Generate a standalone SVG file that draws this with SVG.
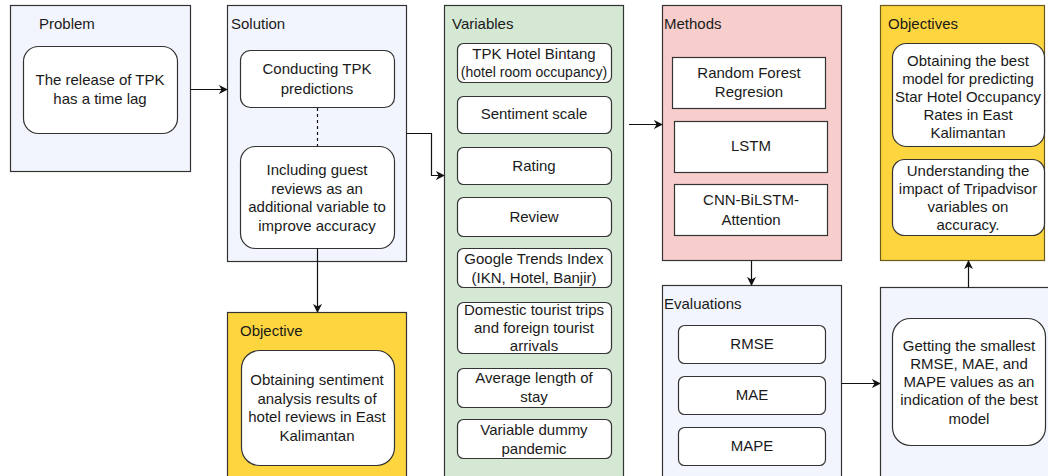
<svg xmlns="http://www.w3.org/2000/svg" width="1048" height="476" viewBox="0 0 1048 476">
<style>
.t{font-family:"Liberation Sans",Arial,sans-serif;font-size:15px;fill:#1a1a1a;text-anchor:middle}
.lbl{font-family:"Liberation Sans",Arial,sans-serif;font-size:15px;fill:#1a1a1a}
.blue{fill:#f2f5fd;stroke:#333;stroke-width:1.2}
.green{fill:#d5e8d4;stroke:#333;stroke-width:1.2}
.red{fill:#f8cecc;stroke:#333;stroke-width:1.2}
.yellow{fill:#fdd53f;stroke:#333;stroke-width:1.2}
.yellowb{fill:#fdd53f;stroke:#6b5a1a;stroke-width:1.2}
.rb{fill:#fff;stroke:#333;stroke-width:1.2}
.ln{fill:none;stroke:#111;stroke-width:1.2}
</style>
<defs>
<marker id="ah" viewBox="0 0 10 10" refX="9" refY="5" markerWidth="9" markerHeight="9" markerUnits="userSpaceOnUse" orient="auto">
<path d="M0,0 L10,5 L0,10 L3,5 Z" fill="#111"/>
</marker>
</defs>
<rect width="1048" height="476" fill="#fff"/>

<g id="problem">
<rect class="blue" x="10.5" y="5.5" width="180" height="166"/>
<text class="lbl" x="39" y="29">Problem</text>
<rect class="rb" x="23.5" y="46.5" width="154" height="87" rx="15"/>
<text class="t" x="100" y="85">The release of TPK</text>
<text class="t" x="100" y="104">has a time lag</text>
</g>

<g id="solution">
<rect class="blue" x="227.5" y="5.5" width="179" height="256"/>
<text class="lbl" x="231" y="29">Solution</text>
<rect class="rb" x="240.5" y="50.5" width="154" height="57" rx="10"/>
<text class="t" x="317" y="74">Conducting TPK</text>
<text class="t" x="317" y="94">predictions</text>
<rect class="rb" x="240.5" y="146.5" width="154" height="102" rx="15"/>
<text class="t" x="317" y="175">Including guest</text>
<text class="t" x="317" y="194">reviews as an</text>
<text class="t" x="317" y="212">additional variable to</text>
<text class="t" x="317" y="231">improve accuracy</text>
</g>

<g id="objective">
<rect class="yellow" x="227.5" y="312.5" width="179" height="170"/>
<text class="lbl" x="240" y="336">Objective</text>
<rect class="rb" x="241.5" y="350.5" width="153" height="115" rx="18"/>
<text class="t" x="317" y="385">Obtaining sentiment</text>
<text class="t" x="317" y="404">analysis results of</text>
<text class="t" x="317" y="422">hotel reviews in East</text>
<text class="t" x="317" y="441">Kalimantan</text>
</g>

<g id="variables">
<rect class="green" x="444.5" y="5.5" width="179" height="480"/>
<text class="lbl" x="452" y="29">Variables</text>
<rect class="rb" x="457.5" y="43.5" width="154" height="39" rx="6"/>
<text class="t" x="534" y="59">TPK Hotel Bintang</text>
<text class="t" x="534" y="77" style="font-size:14px">(hotel room occupancy)</text>
<rect class="rb" x="457.5" y="96.5" width="154" height="37" rx="6"/>
<text class="t" x="534" y="119">Sentiment scale</text>
<rect class="rb" x="457.5" y="147.5" width="154" height="37" rx="6"/>
<text class="t" x="534" y="171">Rating</text>
<rect class="rb" x="457.5" y="197.5" width="154" height="39" rx="6"/>
<text class="t" x="534" y="222">Review</text>
<rect class="rb" x="457.5" y="248.5" width="154" height="39" rx="6"/>
<text class="t" x="534" y="264">Google Trends Index</text>
<text class="t" x="534" y="283">(IKN, Hotel, Banjir)</text>
<rect class="rb" x="457.5" y="302.5" width="154" height="51" rx="6"/>
<text class="t" x="534" y="315">Domestic tourist trips</text>
<text class="t" x="534" y="333">and foreign tourist</text>
<text class="t" x="534" y="351">arrivals</text>
<rect class="rb" x="457.5" y="368.5" width="154" height="39" rx="6"/>
<text class="t" x="534" y="383">Average length of</text>
<text class="t" x="534" y="402">stay</text>
<rect class="rb" x="457.5" y="419.5" width="154" height="39" rx="6"/>
<text class="t" x="534" y="435">Variable dummy</text>
<text class="t" x="534" y="454">pandemic</text>
</g>

<g id="methods">
<rect class="red" x="662.5" y="5.5" width="179" height="255"/>
<text class="lbl" x="664" y="29">Methods</text>
<rect class="rb" x="672.5" y="57.5" width="153" height="51"/>
<text class="t" x="749" y="78">Random Forest</text>
<text class="t" x="749" y="97">Regresion</text>
<rect class="rb" x="674.5" y="121.5" width="153" height="51"/>
<text class="t" x="751" y="151">LSTM</text>
<rect class="rb" x="674.5" y="184.5" width="153" height="51"/>
<text class="t" x="751" y="205">CNN-BiLSTM-</text>
<text class="t" x="751" y="225">Attention</text>
</g>

<g id="evaluations">
<rect class="blue" x="662.5" y="285.5" width="179" height="200"/>
<text class="lbl" x="664" y="309">Evaluations</text>
<rect class="rb" x="678.5" y="325.5" width="147" height="38" rx="6"/>
<text class="t" x="752" y="349">RMSE</text>
<rect class="rb" x="678.5" y="376.5" width="147" height="38" rx="6"/>
<text class="t" x="752" y="400">MAE</text>
<rect class="rb" x="678.5" y="427.5" width="147" height="38" rx="6"/>
<text class="t" x="752" y="451">MAPE</text>
</g>

<g id="result">
<rect class="blue" x="880.5" y="287.5" width="180" height="200"/>
<rect class="rb" x="892.5" y="318.5" width="153" height="127" rx="18"/>
<text class="t" x="969" y="351">Getting the smallest</text>
<text class="t" x="969" y="369">RMSE, MAE, and</text>
<text class="t" x="969" y="387">MAPE values as an</text>
<text class="t" x="969" y="405">indication of the best</text>
<text class="t" x="969" y="424">model</text>
</g>

<g id="objectives">
<rect class="yellowb" x="880.5" y="5.5" width="164" height="255"/>
<text class="lbl" x="888" y="29">Objectives</text>
<rect class="rb" x="892.5" y="43.5" width="152" height="103" rx="14"/>
<text class="t" x="968" y="66">Obtaining the best</text>
<text class="t" x="968" y="84">model for predicting</text>
<text class="t" x="968" y="102">Star Hotel Occupancy</text>
<text class="t" x="968" y="120">Rates in East</text>
<text class="t" x="968" y="138">Kalimantan</text>
<rect class="rb" x="892.5" y="159.5" width="152" height="76" rx="12"/>
<text class="t" x="968" y="176">Understanding the</text>
<text class="t" x="968" y="194">impact of Tripadvisor</text>
<text class="t" x="968" y="212">variables on</text>
<text class="t" x="968" y="230">accuracy.</text>
</g>

<g id="connectors">
<path class="ln" d="M190.5,89.5 H227" marker-end="url(#ah)"/>
<path class="ln" d="M317.5,108 V146" stroke-dasharray="3,3"/>
<path class="ln" d="M406.5,133.5 H431.5 V175.5 H444" marker-end="url(#ah)"/>
<path class="ln" d="M317.5,248.5 V312" marker-end="url(#ah)"/>
<path class="ln" d="M629,124.5 H662" marker-end="url(#ah)"/>
<path class="ln" d="M751.5,260.5 V285" marker-end="url(#ah)"/>
<path class="ln" d="M841.5,383.5 H880" marker-end="url(#ah)"/>
<path class="ln" d="M968.5,287.5 V261" marker-end="url(#ah)"/>
</g>
</svg>
